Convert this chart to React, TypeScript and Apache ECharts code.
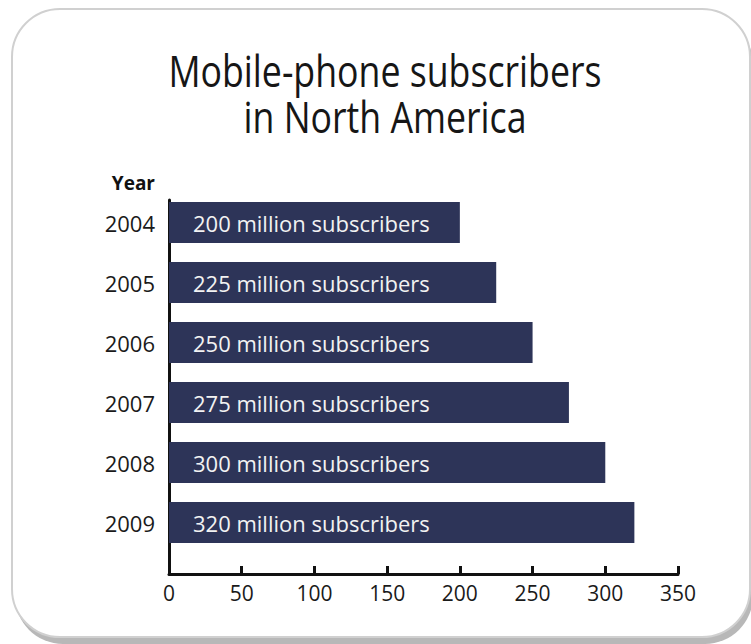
import React, { useEffect, useRef } from 'react';
import * as echarts from 'echarts';

const titleLines = ['Mobile-phone subscribers', 'in North America'];
const years = ['2004', '2005', '2006', '2007', '2008', '2009'];
const subscribers = [200, 225, 250, 275, 300, 320];
const labelSuffix = 'million subscribers';
const axisName = 'Year';
const xMin = 0;
const xMax = 350;
const xStep = 50;

const FONT = 'Open Sans';
const BAR = '#2d3458';

export default function App() {
  const ref = useRef<HTMLDivElement>(null);
  useEffect(() => {
    const chart = echarts.init(ref.current!, null, { renderer: 'svg' });
    chart.setOption({
      animation: false,
      backgroundColor: '#ffffff',
      textStyle: { fontFamily: FONT },
      graphic: [
        {
          type: 'rect',
          z: -20,
          silent: true,
          shape: { x: 15, y: 16, width: 738, height: 628, r: 48 },
          style: { fill: '#b8b8b8' },
        },
        {
          type: 'rect',
          z: -10,
          silent: true,
          shape: { x: 12, y: 9, width: 738, height: 628, r: 48 },
          style: { fill: '#ffffff', stroke: '#d0d0d0', lineWidth: 2 },
        },
        ...titleLines.map((t, i) => ({
          type: 'text',
          x: 385,
          y: 71 + i * 45.5,
          scaleX: 0.83,
          silent: true,
          style: {
            text: t,
            fontFamily: FONT,
            fontSize: 43,
            fill: '#161616',
            textAlign: 'center',
            textVerticalAlign: 'middle',
          },
        })),
      ],
      grid: [
        { left: 169, top: 192.5, width: 509, height: 360 },
        { left: 169, top: 200, width: 509, height: 374 },
      ],
      xAxis: [
        { type: 'value', gridIndex: 0, min: xMin, max: xMax, interval: xStep, show: false },
        {
          type: 'value',
          gridIndex: 1,
          min: xMin,
          max: xMax,
          interval: xStep,
          axisLine: { show: true, lineStyle: { color: '#111', width: 3 } },
          axisTick: { show: true, inside: true, length: 8, lineStyle: { color: '#111', width: 3 } },
          axisLabel: { fontFamily: FONT, fontSize: 21, color: '#1a1a1a', margin: 8 },
          splitLine: { show: false },
        },
      ],
      yAxis: [
        {
          type: 'category',
          gridIndex: 0,
          inverse: true,
          data: years,
          axisLine: { show: false },
          axisTick: { show: false },
          axisLabel: { fontFamily: FONT, fontSize: 22, color: '#1a1a1a', margin: 14 },
        },
        {
          type: 'value',
          gridIndex: 1,
          min: 0,
          max: 1,
          axisLine: { show: true, onZero: false, lineStyle: { color: '#111', width: 3 } },
          axisTick: { show: false },
          axisLabel: { show: false },
          splitLine: { show: false },
          name: axisName,
          nameLocation: 'end',
          nameGap: 8,
          nameTextStyle: {
            fontFamily: FONT,
            fontSize: 19,
            fontWeight: 'bold',
            color: '#111',
            align: 'right',
            padding: [0, 14, 0, 0],
          },
        },
      ],
      series: [
        {
          type: 'bar',
          xAxisIndex: 0,
          yAxisIndex: 0,
          data: subscribers,
          barWidth: 41,
          itemStyle: { color: BAR },
          label: {
            show: true,
            position: 'insideLeft',
            distance: 24,
            formatter: (p: any) => `${p.value} ${labelSuffix}`,
            fontFamily: FONT,
            fontSize: 22,
            color: '#f2f2f2',
          },
        },
      ],
    });
    return () => chart.dispose();
  }, []);
  return (
    <div
      ref={ref}
      style={{ position: 'absolute', left: 0, top: 0, width: 751, height: 644 }}
    />
  );
}
